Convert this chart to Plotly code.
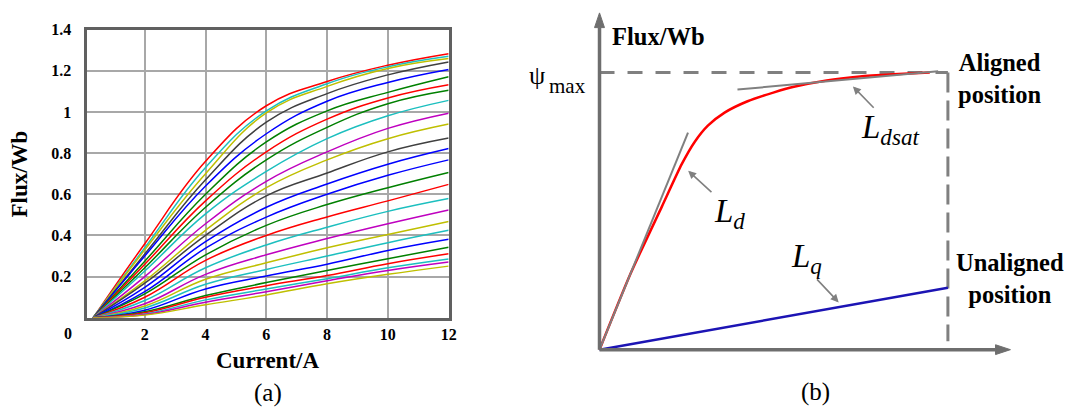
import plotly.graph_objects as go

W, H = 1076, 408
FONT = "Liberation Serif, Times New Roman, serif"

# ---------------- Panel (a) data ----------------
current = [0.3, 2, 4, 6, 8, 10, 12]
flux_01 = [0, 0.360, 0.760, 1.030, 1.148, 1.227, 1.283]
flux_02 = [0, 0.340, 0.730, 1.005, 1.137, 1.219, 1.270]
flux_03 = [0, 0.330, 0.700, 0.995, 1.124, 1.211, 1.259]
flux_04 = [0, 0.310, 0.670, 0.950, 1.089, 1.180, 1.243]
flux_05 = [0, 0.300, 0.640, 0.894, 1.052, 1.143, 1.206]
flux_06 = [0, 0.275, 0.600, 0.854, 1.005, 1.095, 1.171]
flux_07 = [0, 0.260, 0.568, 0.806, 0.965, 1.068, 1.132]
flux_08 = [0, 0.243, 0.537, 0.767, 0.925, 1.040, 1.105]
flux_09 = [0, 0.227, 0.505, 0.711, 0.870, 0.981, 1.056]
flux_10 = [0, 0.200, 0.457, 0.663, 0.806, 0.920, 0.994]
flux_11 = [0, 0.179, 0.425, 0.632, 0.767, 0.870, 0.941]
flux_12 = [0, 0.168, 0.400, 0.592, 0.703, 0.806, 0.873]
flux_13 = [0, 0.148, 0.370, 0.537, 0.650, 0.746, 0.822]
flux_14 = [0, 0.127, 0.338, 0.489, 0.600, 0.692, 0.767]
flux_15 = [0, 0.116, 0.306, 0.449, 0.550, 0.632, 0.706]
flux_16 = [0, 0.100, 0.279, 0.400, 0.490, 0.568, 0.648]
flux_17 = [0, 0.084, 0.243, 0.354, 0.440, 0.517, 0.579]
flux_18 = [0, 0.068, 0.211, 0.306, 0.385, 0.457, 0.524]
flux_19 = [0, 0.057, 0.187, 0.267, 0.340, 0.405, 0.468]
flux_20 = [0, 0.048, 0.163, 0.235, 0.300, 0.365, 0.425]
flux_21 = [0, 0.037, 0.140, 0.203, 0.260, 0.327, 0.381]
flux_22 = [0, 0.029, 0.108, 0.171, 0.230, 0.287, 0.343]
flux_23 = [0, 0.024, 0.100, 0.156, 0.205, 0.263, 0.311]
flux_24 = [0, 0.019, 0.087, 0.140, 0.190, 0.243, 0.286]
flux_25 = [0, 0.016, 0.076, 0.127, 0.180, 0.230, 0.271]
flux_26 = [0, 0.013, 0.063, 0.111, 0.165, 0.211, 0.251]
flux_curves = [flux_01, flux_02, flux_03, flux_04, flux_05, flux_06, flux_07,
               flux_08, flux_09, flux_10, flux_11, flux_12, flux_13, flux_14,
               flux_15, flux_16, flux_17, flux_18, flux_19, flux_20, flux_21,
               flux_22, flux_23, flux_24, flux_25, flux_26]
R, C, Y, K, B, G, M = "#ff0000", "#1cbfbf", "#bfbf00", "#404040", "#0000ff", "#008000", "#bf00bf"
curve_colors = [R, C, Y, K, B, G, R, G, C, M, Y, K, B, B, G, R, C, M, Y, C, B, G, R, C, M, Y]
x_ticks = [2, 4, 6, 8, 10, 12]
y_ticks = [0.2, 0.4, 0.6, 0.8, 1.0, 1.2, 1.4]
y_ticktext = ["0.2", "0.4", "0.6", "0.8", "1", "1.2", "1.4"]

# ---------------- Panel (b) data (normalised current / flux) ----------------
aligned_i = [0, 0.088, 0.179, 0.236, 0.274, 0.311, 0.359, 0.425, 0.501, 0.558, 0.652, 0.748, 0.843, 0.948]
aligned_psi = [0, 0.271, 0.516, 0.669, 0.751, 0.808, 0.855, 0.896, 0.928, 0.948, 0.971, 0.985, 0.993, 1.0]
unaligned_i = [0, 1.0]
unaligned_psi = [0, 0.2235]
ld_tangent_i = [0, 0.254]
ld_tangent_psi = [0, 0.783]
ldsat_tangent_i = [0.396, 0.972]
ldsat_tangent_psi = [0.938, 1.004]
psimax_i = [0, 1.0]
psimax_psi = [1.0, 1.0]
imax_i = [1.0, 1.0]
imax_psi = [1.0, 0.03]

# pixel geometry of panel (b) frame
B_X0_PX, B_X1_PX = 604, 955
B_Y0_PX, B_Y1_PX = 348.5, 65.7
sx = 1.0 / (B_X1_PX - B_X0_PX)
sy = 1.0 / (B_Y0_PX - B_Y1_PX)


def bx(px):
    return (px - B_X0_PX) * sx


def by(py):
    return (B_Y0_PX - py) * sy


fig = go.Figure()

for vals, col in zip(flux_curves, curve_colors):
    fig.add_trace(go.Scatter(x=current, y=vals, mode="lines",
                             line=dict(color=col, width=1.5, shape="spline", smoothing=1.2),
                             xaxis="x", yaxis="y", showlegend=False, hoverinfo="skip"))

GRAY = "#808080"
AXG = "#6e6e6e"
# dashed limits
fig.add_trace(go.Scatter(x=psimax_i, y=psimax_psi, mode="lines",
                         line=dict(color=GRAY, width=3, dash="15px,13px"),
                         xaxis="x2", yaxis="y2", showlegend=False))
fig.add_trace(go.Scatter(x=imax_i, y=imax_psi, mode="lines",
                         line=dict(color=GRAY, width=3, dash="20px,8px"),
                         xaxis="x2", yaxis="y2", showlegend=False))
# curves
fig.add_trace(go.Scatter(x=aligned_i, y=aligned_psi, mode="lines",
                         line=dict(color="#ff0000", width=2.5, shape="spline", smoothing=0.6),
                         xaxis="x2", yaxis="y2", showlegend=False))
fig.add_trace(go.Scatter(x=unaligned_i, y=unaligned_psi, mode="lines",
                         line=dict(color="#1c14b4", width=2.5),
                         xaxis="x2", yaxis="y2", showlegend=False))
fig.add_trace(go.Scatter(x=ld_tangent_i, y=ld_tangent_psi, mode="lines",
                         line=dict(color=GRAY, width=2),
                         xaxis="x2", yaxis="y2", showlegend=False))
fig.add_trace(go.Scatter(x=ldsat_tangent_i, y=ldsat_tangent_psi, mode="lines",
                         line=dict(color=GRAY, width=2),
                         xaxis="x2", yaxis="y2", showlegend=False))

# axes of panel (b) with arrow heads
tip_y = by(5)
tip_x = bx(1018)
head_len = 15
head_half = 5
fig.add_trace(go.Scatter(x=[0, 0], y=[0, tip_y - head_len * sy], mode="lines",
                         line=dict(color=AXG, width=3.5), xaxis="x2", yaxis="y2", showlegend=False))
fig.add_trace(go.Scatter(x=[0, tip_x - head_len * sx], y=[0, 0], mode="lines",
                         line=dict(color=AXG, width=3.5), xaxis="x2", yaxis="y2", showlegend=False))
fig.add_trace(go.Scatter(x=[-head_half * sx, head_half * sx, 0, -head_half * sx],
                         y=[tip_y - head_len * sy, tip_y - head_len * sy, tip_y, tip_y - head_len * sy],
                         mode="lines", fill="toself", fillcolor=AXG, line=dict(color=AXG, width=1),
                         xaxis="x2", yaxis="y2", showlegend=False))
fig.add_trace(go.Scatter(x=[tip_x - head_len * sx, tip_x - head_len * sx, tip_x, tip_x - head_len * sx],
                         y=[-head_half * sy, head_half * sy, 0, -head_half * sy],
                         mode="lines", fill="toself", fillcolor=AXG, line=dict(color=AXG, width=1),
                         xaxis="x2", yaxis="y2", showlegend=False))

ann = []


def ptext(x, y, text, size, **kw):
    d = dict(x=x / W, y=1 - y / H, xref="paper", yref="paper", text=text, showarrow=False,
             font=dict(family=FONT, size=size, color="black"), xanchor="center", yanchor="middle")
    d.update(kw)
    ann.append(d)


# panel (a) texts
ptext(69, 332, "<b>0</b>", 16)
ptext(20, 169, "<b>Flux/Wb</b>", 23, textangle=-90)
ptext(269, 360, "<b>Current/A</b>", 23)
ptext(270, 393, "(a)", 25)

# panel (b) texts
ptext(663, 29, "<b>Flux/Wb</b>", 24.5)
ptext(541, 69, "ψ", 26)
ptext(572, 80, "max", 21)
ptext(1007, 72, "<b>Aligned<br>position</b>", 24.5)
ptext(1018, 276, "<b>Unaligned<br>position</b>", 24.5)
ptext(897, 124, "<i>L</i><sub><i>dsat</i></sub>", 33)
ptext(735, 210, "<i>L</i><sub><i>d</i></sub>", 33)
ptext(813, 256, "<i>L</i><sub><i>q</i></sub>", 33)
ptext(822, 392, "(b)", 25)

# pointer arrows (tail -> head), in panel (b) pixel space converted to data
pointers = [((881.7, 103.3), (859.3, 80)),
            ((718.3, 189.3), (693.3, 166)),
            ((821.7, 275.3), (845, 300.3))]
for (tx, ty), (hx, hy) in pointers:
    ann.append(dict(x=bx(hx), y=by(hy), ax=bx(tx), ay=by(ty), xref="x2", yref="y2",
                    axref="x2", ayref="y2", text="", showarrow=True, arrowhead=2,
                    arrowsize=1, arrowwidth=1.6, arrowcolor=GRAY, standoff=0))

fig.update_layout(
    width=W, height=H, autosize=False,
    margin=dict(l=0, r=0, t=0, b=0),
    paper_bgcolor="white", plot_bgcolor="white",
    font=dict(family=FONT, color="black"),
    annotations=ann,
    xaxis=dict(domain=[88 / W, 452 / W], range=[0.11, 12], tickvals=x_ticks,
               ticktext=[str(v) for v in x_ticks],
               tickfont=dict(family=FONT, size=16, color="black", weight="bold"),
               showgrid=True, gridcolor="#a8a8a8", gridwidth=1.5, zeroline=False,
               showline=True, linecolor="#606060", linewidth=3, mirror=True,
               ticks="", ticklabelstandoff=0, fixedrange=True),
    yaxis=dict(domain=[92 / H, 386 / H], range=[0, 1.4], tickvals=y_ticks, ticktext=y_ticktext,
               tickfont=dict(family=FONT, size=16, color="black", weight="bold"),
               showgrid=True, gridcolor="#a8a8a8", gridwidth=1.5, zeroline=False,
               showline=True, linecolor="#606060", linewidth=3, mirror=True,
               ticks="", ticklabelstandoff=10, fixedrange=True),
    xaxis2=dict(domain=[500 / W, 1.0], range=[bx(500), bx(1076)], visible=False,
                anchor="y2", fixedrange=True),
    yaxis2=dict(domain=[0, 1], range=[by(408), by(0)], visible=False,
                anchor="x2", fixedrange=True),
)

fig.write_html("out.html", post_script="document.body.style.margin='0';")
